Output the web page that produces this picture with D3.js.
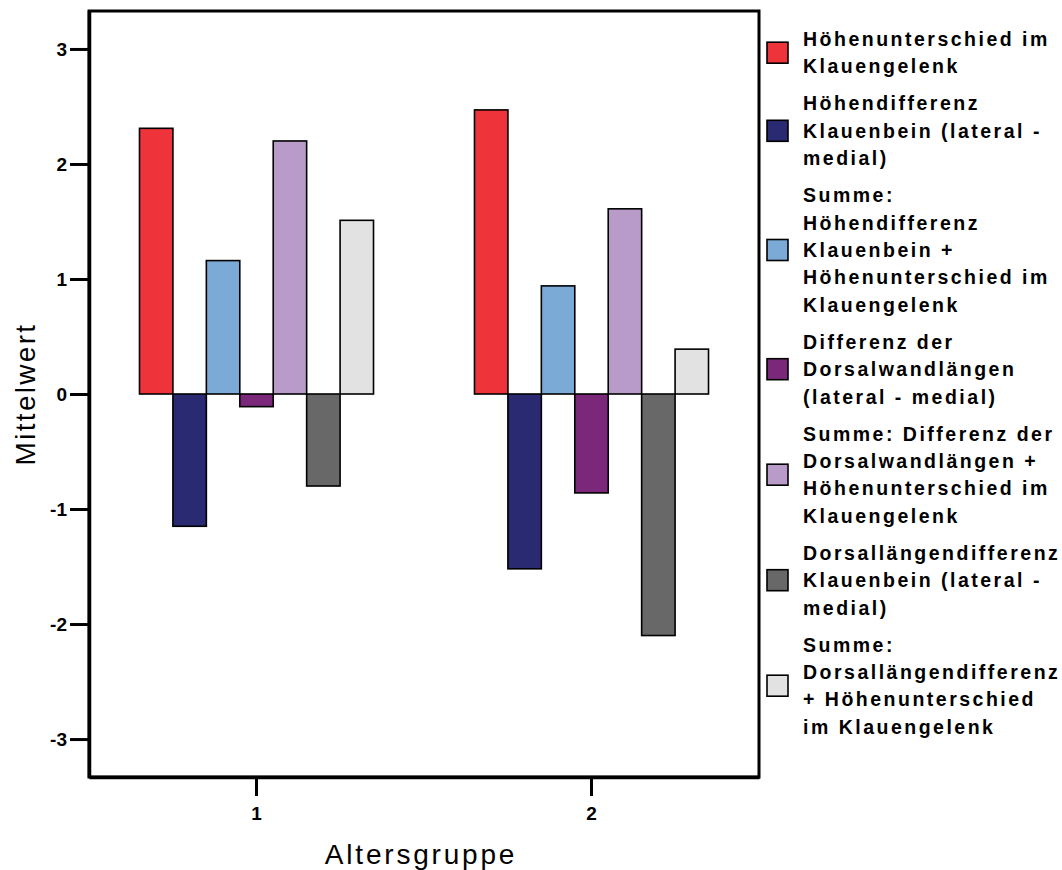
<!DOCTYPE html>
<html>
<head>
<meta charset="utf-8">
<script src="https://cdn.jsdelivr.net/npm/d3@7"></script>
<style>
  html, body { margin: 0; padding: 0; background: #fff; }
  svg { display: block; font-family: "Liberation Sans", Arial, Helvetica, sans-serif; }
</style>
</head>
<body>
<svg id="chart" width="1062" height="870"></svg>
<script>
// Age groups on the x axis
const groups = ["1", "2"];

// Measured differences (mean values per age group)
const seriesKeys = ["hk", "hkb", "sumHk", "dw", "sumDw", "dlk", "sumDl"];
const hoehenunterschiedKlauengelenk = [2.31, 2.47];
const hoehendifferenzKlauenbein = [-1.15, -1.52];
const summeHoehendifferenz = [1.16, 0.94];
const differenzDorsalwand = [-0.11, -0.86];
const summeDorsalwand = [2.20, 1.61];
const dorsallaengendifferenz = [-0.80, -2.10];
const summeDorsallaengen = [1.51, 0.39];

const seriesValues = [
  hoehenunterschiedKlauengelenk,
  hoehendifferenzKlauenbein,
  summeHoehendifferenz,
  differenzDorsalwand,
  summeDorsalwand,
  dorsallaengendifferenz,
  summeDorsallaengen
];

// Legend labels, already broken into lines
const legendLabels = [
  ["Höhenunterschied im", "Klauengelenk"],
  ["Höhendifferenz", "Klauenbein (lateral -", "medial)"],
  ["Summe:", "Höhendifferenz", "Klauenbein +", "Höhenunterschied im", "Klauengelenk"],
  ["Differenz der", "Dorsalwandlängen", "(lateral - medial)"],
  ["Summe: Differenz der", "Dorsalwandlängen +", "Höhenunterschied im", "Klauengelenk"],
  ["Dorsallängendifferenz", "Klauenbein (lateral -", "medial)"],
  ["Summe:", "Dorsallängendifferenz", "+ Höhenunterschied", "im Klauengelenk"]
];

const colors = ["#ef333b", "#292a72", "#7baad6", "#7c287a", "#b89bc9", "#686868", "#e2e2e2"];

const yTicks = [-3, -2, -1, 0, 1, 2, 3];
const yTitle = "Mittelwert";
const xTitle = "Altersgruppe";

// Layout
const plot = { left: 89, right: 759, top: 11, bottom: 777 };

const svg = d3.select("#chart");

const x0 = d3.scaleBand().domain(groups).range([plot.left, plot.right]).padding(0);
const x1 = d3.scaleBand().domain(seriesKeys).range([0, x0.bandwidth()])
  .paddingInner(0).paddingOuter(1.51);
const y = d3.scaleLinear().domain([-3.33, 3.33]).range([plot.bottom, plot.top]);
const color = d3.scaleOrdinal().domain(seriesKeys).range(colors);

// Bars
const rows = [];
groups.forEach((g, gi) => {
  seriesKeys.forEach((k, si) => rows.push({ group: g, key: k, value: seriesValues[si][gi] }));
});

svg.append("g").selectAll("rect").data(rows).join("rect")
  .attr("x", d => x0(d.group) + x1(d.key))
  .attr("y", d => y(Math.max(0, d.value)))
  .attr("width", x1.bandwidth())
  .attr("height", d => Math.abs(y(d.value) - y(0)))
  .attr("fill", d => color(d.key))
  .attr("stroke", "#000")
  .attr("stroke-width", 1.6);

// Frame
svg.append("rect")
  .attr("x", plot.left).attr("y", plot.top)
  .attr("width", plot.right - plot.left).attr("height", plot.bottom - plot.top)
  .attr("fill", "none").attr("stroke", "#000").attr("stroke-width", 3);

const tickFont = g => g.selectAll(".tick text")
  .attr("font-size", 19).attr("font-weight", "bold").attr("fill", "#000")
  .attr("font-family", "Liberation Sans, Arial, sans-serif");

// Y axis
const yAxis = d3.axisLeft(y).tickValues(yTicks).tickSize(19).tickSizeOuter(0)
  .tickPadding(3).tickFormat(d => String(d));
const gy = svg.append("g").attr("transform", `translate(${plot.left},0)`).call(yAxis);
gy.select(".domain").attr("stroke-width", 3.5);
gy.selectAll(".tick line").attr("stroke-width", 3);
gy.call(tickFont);

// X axis
const xAxis = d3.axisBottom(x0).tickSize(19).tickSizeOuter(0).tickPadding(11);
const gx = svg.append("g").attr("transform", `translate(0,${plot.bottom})`).call(xAxis);
gx.select(".domain").attr("stroke-width", 3.5);
gx.selectAll(".tick line").attr("stroke-width", 3);
gx.call(tickFont);

// Axis titles
svg.append("text")
  .attr("transform", `translate(35,${y(0)}) rotate(-90)`)
  .attr("text-anchor", "middle")
  .attr("font-size", 28).attr("letter-spacing", 2.3)
  .attr("fill", "#000")
  .text(yTitle);

svg.append("text")
  .attr("x", 421).attr("y", 864)
  .attr("text-anchor", "middle")
  .attr("font-size", 28).attr("letter-spacing", 2.8)
  .attr("fill", "#000")
  .text(xTitle);

// Legend
const lineH = 27.4;
const entryGap = 37;
let baseline = 46;
const legend = svg.append("g");
legendLabels.forEach((lines, i) => {
  const first = baseline;
  const last = first + (lines.length - 1) * lineH;
  const mid = (first + last) / 2 - 7;
  legend.append("rect")
    .attr("x", 767).attr("y", mid - 10.5)
    .attr("width", 21).attr("height", 21)
    .attr("fill", colors[i]).attr("stroke", "#000").attr("stroke-width", 1.6);
  const t = legend.append("text")
    .attr("font-size", 19.5).attr("font-weight", "bold")
    .attr("letter-spacing", 2.5).attr("fill", "#000");
  lines.forEach((ln, j) => {
    t.append("tspan").attr("x", 803).attr("y", first + j * lineH).text(ln);
  });
  baseline = last + entryGap;
});
</script>
</body>
</html>
